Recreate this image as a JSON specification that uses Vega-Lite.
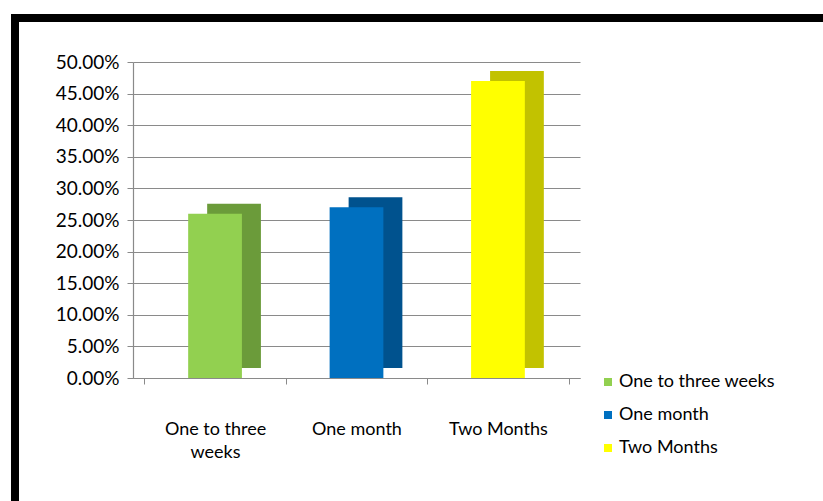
{
  "$schema": "https://vega.github.io/schema/vega-lite/v6.json",
  "width": 808,
  "height": 483,
  "padding": {"left": 15, "top": 18, "right": 0, "bottom": 0},
  "autosize": {"type": "none"},
  "background": "white",
  "config": {
    "font": "Lato",
    "view": {"stroke": "#000000", "strokeWidth": 8, "strokeDash": [808, 1291, 483, 0], "strokeCap": "square"}
  },
  "data": {
    "values": [
      {"Category": "One to three weeks", "Percent": 0.26},
      {"Category": "One month", "Percent": 0.27},
      {"Category": "Two Months", "Percent": 0.47}
    ]
  },
  "encoding": {
    "x": {
      "field": "Category",
      "type": "nominal",
      "sort": ["One to three weeks", "One month", "Two Months"],
      "scale": {"range": [118, 565], "paddingInner": 0, "paddingOuter": 0.08},
      "axis": {
        "orient": "bottom",
        "offset": -123,
        "title": null,
        "domain": true,
        "domainColor": "#8a8a8a",
        "domainWidth": 1.2,
        "ticks": true,
        "tickBand": "extent",
        "tickColor": "#8a8a8a",
        "tickSize": 6,
        "labelPadding": 36,
        "labelFontSize": 18,
        "labelColor": "#000000",
        "labelAngle": 0,
        "labelLineHeight": 23,
        "labelExpr": "datum.label == 'One to three weeks' ? ['One to three', 'weeks'] : datum.label",
        "grid": false
      }
    },
    "y": {
      "field": "Percent",
      "type": "quantitative",
      "scale": {"domain": [0, 0.5], "range": [360, 44], "nice": false, "zero": true},
      "axis": {
        "values": [0, 0.05, 0.1, 0.15, 0.2, 0.25, 0.3, 0.35, 0.4, 0.45, 0.5],
        "format": ".2%",
        "title": null,
        "offset": -118,
        "domain": true,
        "domainColor": "#8a8a8a",
        "domainWidth": 1.2,
        "tickColor": "#8a8a8a",
        "tickSize": 6,
        "labelPadding": 8,
        "labelFontSize": 19,
        "labelColor": "#000000",
        "grid": true,
        "gridColor": "#8a8a8a",
        "gridWidth": 1.2
      }
    },
    "y2": {"datum": 0}
  },
  "layer": [
    {
      "mark": {"type": "bar", "width": {"band": 0.38}, "xOffset": 19, "yOffset": -10, "y2Offset": -10},
      "encoding": {
        "color": {
          "field": "Category",
          "type": "nominal",
          "scale": {"domain": ["One to three weeks", "One month", "Two Months"], "range": ["#6B9B3A", "#00528E", "#C2C200"]},
          "legend": null
        }
      }
    },
    {
      "mark": {"type": "bar", "width": {"band": 0.38}},
      "encoding": {
        "color": {
          "field": "Category",
          "type": "nominal",
          "scale": {"domain": ["One to three weeks", "One month", "Two Months"], "range": ["#92D050", "#0070C0", "#FFFF00"]},
          "legend": {
            "title": null,
            "orient": "none",
            "legendX": 584,
            "legendY": 355,
            "padding": 0,
            "symbolType": "square",
            "symbolSize": 64,
            "symbolStrokeWidth": 0,
            "labelFontSize": 18,
            "labelColor": "#000000",
            "labelOffset": 2,
            "rowPadding": 15
          }
        }
      }
    }
  ],
  "resolve": {"scale": {"color": "independent"}}
}
